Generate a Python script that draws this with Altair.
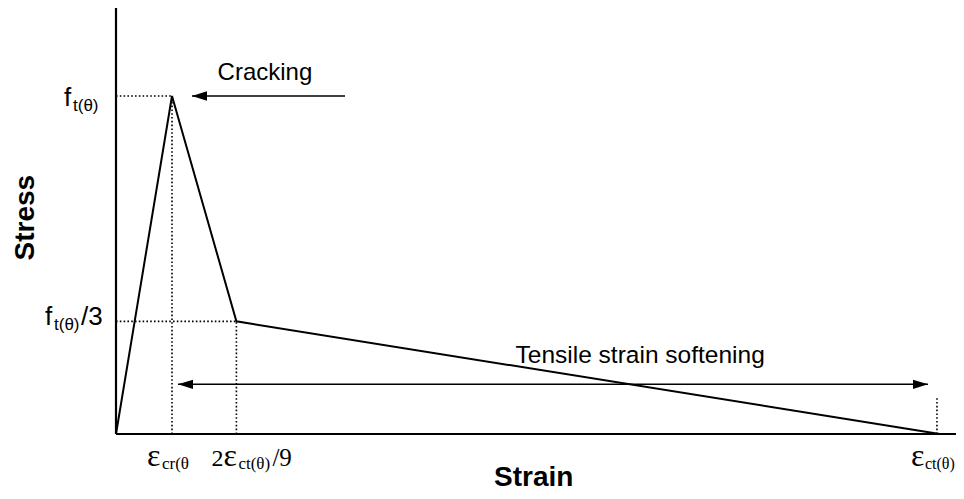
import altair as alt
import pandas as pd

# ---- data (strain in units of eps_cr, stress in units of f_t/3) ----
strain = [0.0, 1.0, 2.15, 14.71]
stress = [0.0, 3.0, 1.0, 0.0]

x_ticks = [1.0, 2.15, 14.66]   # eps_cr, 2eps_ct/9, eps_ct
y_ticks = [3.0, 1.0]           # f_t, f_t/3

# guide (dotted) segments
guide_x = [0.0, 1.0, 0.0, 2.15, 14.66]
guide_x2 = [1.0, 1.0, 2.15, 2.15, 14.66]
guide_y = [3.0, 0.0, 1.0, 0.0, 0.0]
guide_y2 = [3.0, 3.0, 1.0, 1.0, 0.32]

# arrows: (tail_x, tip_x, y)
crack_arrow = [4.09, 1.357, 3.0]
soft_arrow = [1.107, 14.5, 0.441]

X_DOMAIN = [-1.9286, 15.0]
Y_DOMAIN = [-0.5059, 3.781]

SANS = "Liberation Sans"
SERIF = "Liberation Serif"

xs = alt.Scale(domain=X_DOMAIN, nice=False, zero=False)
ys = alt.Scale(domain=Y_DOMAIN, nice=False, zero=False)


def X(f="x"):
    return alt.X(f + ":Q", scale=xs, axis=None)


def Y(f="y"):
    return alt.Y(f + ":Q", scale=ys, axis=None)


layers = []

# axes lines
axes_df = pd.DataFrame({"x": [0.0, 0.0], "x2": [0.0, X_DOMAIN[1]],
                        "y": [0.0, 0.0], "y2": [Y_DOMAIN[1], 0.0]})
layers.append(alt.Chart(axes_df).mark_rule(color="black", strokeWidth=2.2).encode(
    x=X(), x2="x2:Q", y=Y(), y2="y2:Q"))

# dotted guides
g_df = pd.DataFrame({"x": guide_x, "x2": guide_x2, "y": guide_y, "y2": guide_y2})
layers.append(alt.Chart(g_df).mark_rule(color="black", strokeWidth=1.6, strokeDash=[1.6, 2.2]).encode(
    x=X(), x2="x2:Q", y=Y(), y2="y2:Q"))

# main curve
c_df = pd.DataFrame({"x": strain, "y": stress, "o": list(range(len(strain)))})
layers.append(alt.Chart(c_df).mark_line(color="black", strokeWidth=2).encode(
    x=X(), y=Y(), order="o:Q"))

# arrows shafts
a_df = pd.DataFrame({"x": [crack_arrow[0], soft_arrow[0]],
                     "x2": [crack_arrow[1], soft_arrow[1]],
                     "y": [crack_arrow[2], soft_arrow[2]]})
layers.append(alt.Chart(a_df).mark_rule(color="black", strokeWidth=1.5).encode(
    x=X(), x2="x2:Q", y=Y()))

LEFT_HEAD = "M0,0L2,-0.62L2,0.62Z"
RIGHT_HEAD = "M0,0L-2,-0.62L-2,0.62Z"
lh_df = pd.DataFrame({"x": [crack_arrow[1], soft_arrow[0]], "y": [crack_arrow[2], soft_arrow[2]]})
layers.append(alt.Chart(lh_df).mark_point(shape=LEFT_HEAD, size=225, filled=True, color="black",
                                          opacity=1, strokeWidth=0).encode(x=X(), y=Y()))
rh_df = pd.DataFrame({"x": [soft_arrow[1]], "y": [soft_arrow[2]]})
layers.append(alt.Chart(rh_df).mark_point(shape=RIGHT_HEAD, size=225, filled=True, color="black",
                                          opacity=1, strokeWidth=0).encode(x=X(), y=Y()))


def txt(x, y, text, size, font, dx=0, dy=0, weight="normal", align="left", angle=0, baseline="alphabetic"):
    df = pd.DataFrame({"x": [x], "y": [y], "t": [text]})
    kw = dict(font=font, fontSize=size, fontWeight=weight, align=align,
              baseline=baseline, dx=dx, dy=dy, color="black")
    if angle:
        kw["angle"] = angle
    return alt.Chart(df).mark_text(**kw).encode(x=X(), y=Y(), text="t:N")


# annotations
layers.append(txt(2.66, 3.142, "Cracking", 24, SANS, align="center"))
layers.append(txt(9.36, 0.63, "Tensile strain softening", 24.5, SANS, align="center"))

# y labels (sans)
layers.append(txt(0, y_ticks[0], "f", 26, SANS, dx=-52, dy=10))
layers.append(txt(0, y_ticks[0], "t(θ)", 17, SANS, dx=-43, dy=15))
layers.append(txt(0, y_ticks[1], "f", 26, SANS, dx=-71, dy=4))
layers.append(txt(0, y_ticks[1], "t(θ)", 17, SANS, dx=-62, dy=9))
layers.append(txt(0, y_ticks[1], "/3", 26, SANS, dx=-35, dy=4))

# x labels (serif)
layers.append(txt(x_ticks[0], 0, "ε", 32, SERIF, dx=-25, dy=32))
layers.append(txt(x_ticks[0], 0, "cr(θ", 17, SERIF, dx=-10, dy=35))
layers.append(txt(x_ticks[1], 0, "2", 24, SERIF, dx=-25, dy=32))
layers.append(txt(x_ticks[1], 0, "ε", 32, SERIF, dx=-13, dy=32))
layers.append(txt(x_ticks[1], 0, "ct(θ)", 17, SERIF, dx=2, dy=35))
layers.append(txt(x_ticks[1], 0, "/9", 25, SERIF, dx=36, dy=32))
layers.append(txt(x_ticks[2], 0, "ε", 32, SERIF, dx=-26, dy=32))
layers.append(txt(x_ticks[2], 0, "ct(θ)", 16, SERIF, dx=-12, dy=35))

# axis titles
layers.append(txt(7.46, 0, "Strain", 28, SANS, dy=52, weight="bold", align="center"))
layers.append(txt(-1.61, 1.92, "Stress", 28, SANS, weight="bold", align="center",
                  angle=270, baseline="middle"))

chart = alt.layer(*layers).properties(
    width=948, height=483, padding=0, autosize="none", background="white"
).configure_view(stroke=None)

chart.save("out.html", embed_options={"renderer": "svg", "actions": False})
